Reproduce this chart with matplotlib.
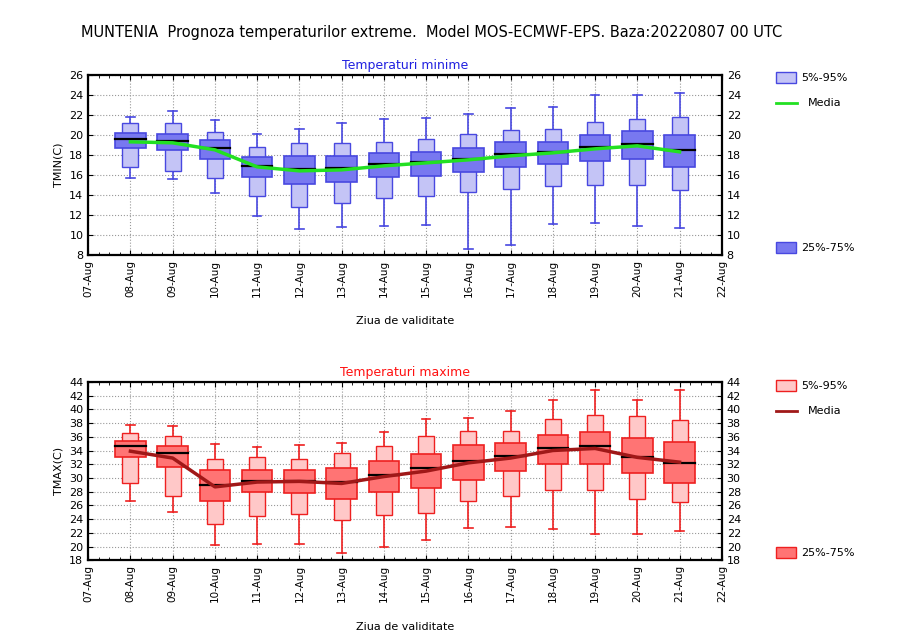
import matplotlib; matplotlib.use("Agg")
import numpy as np, matplotlib.pyplot as plt
import matplotlib.dates as mdates
from matplotlib.patches import Rectangle
from matplotlib.lines import Line2D
import datetime as dt

days = [dt.date(2022, 8, d) for d in range(8, 22)]
# min, p5, p25, median, p75, p95, max, mean
tmin_min = [15.7, 15.6, 14.2, 11.9, 10.6, 10.8, 10.9, 11.0, 8.6, 9.0, 11.1, 11.2, 10.9, 10.7]
tmin_p5 = [16.8, 16.4, 15.7, 13.9, 12.8, 13.2, 13.7, 13.9, 14.3, 14.6, 14.9, 15.0, 15.0, 14.5]
tmin_p25 = [18.7, 18.5, 17.6, 15.8, 15.1, 15.3, 15.8, 15.9, 16.3, 16.8, 17.1, 17.4, 17.6, 16.8]
tmin_med = [19.6, 19.4, 18.7, 16.9, 16.6, 16.7, 17.1, 17.3, 17.6, 18.1, 18.3, 18.8, 19.1, 18.5]
tmin_p75 = [20.2, 20.1, 19.5, 17.8, 17.9, 17.9, 18.2, 18.3, 18.7, 19.3, 19.3, 20.0, 20.4, 20.0]
tmin_p95 = [21.2, 21.2, 20.3, 18.8, 19.2, 19.2, 19.3, 19.6, 20.1, 20.5, 20.6, 21.3, 21.6, 21.8]
tmin_max = [21.8, 22.4, 21.5, 20.1, 20.6, 21.2, 21.6, 21.7, 22.1, 22.7, 22.8, 24.0, 24.0, 24.2]
tmin_mean = [19.3, 19.2, 18.5, 16.8, 16.4, 16.5, 16.9, 17.2, 17.5, 17.9, 18.2, 18.6, 18.9, 18.3]

tmax_min = [26.7, 25.0, 20.2, 20.4, 20.3, 19.1, 20.0, 20.9, 22.7, 22.8, 22.5, 21.8, 21.9, 22.2]
tmax_p5 = [29.2, 27.3, 23.3, 24.4, 24.7, 23.9, 24.6, 24.9, 26.6, 27.4, 28.3, 28.2, 27.0, 26.5]
tmax_p25 = [33.0, 31.6, 26.7, 27.9, 27.8, 27.0, 28.0, 28.5, 29.7, 31.0, 32.0, 32.0, 30.7, 29.3]
tmax_med = [34.6, 33.7, 28.9, 29.6, 29.6, 29.4, 30.4, 31.4, 32.4, 33.2, 34.4, 34.6, 33.0, 32.2]
tmax_p75 = [35.4, 34.7, 31.1, 31.2, 31.1, 31.4, 32.5, 33.5, 34.8, 35.1, 36.3, 36.7, 35.8, 35.2]
tmax_p95 = [36.5, 36.1, 32.8, 33.1, 32.7, 33.7, 34.6, 36.1, 36.9, 36.9, 38.6, 39.2, 39.0, 38.5]
tmax_max = [37.7, 37.5, 34.9, 34.5, 34.8, 35.1, 36.7, 38.6, 38.7, 39.7, 41.4, 42.8, 41.4, 42.8]
tmax_mean = [33.9, 32.9, 28.7, 29.4, 29.5, 29.2, 30.2, 31.0, 32.2, 32.9, 34.0, 34.3, 33.0, 32.3]

fig = plt.figure(figsize=(9, 6.44), dpi=100)
fig.text(0.48, 0.942, "MUNTENIA  Prognoza temperaturilor extreme.  Model MOS-ECMWF-EPS. Baza:20220807 00 UTC",
         ha="center", fontsize=10.5)

def panel(rect, data, ylim, yticks, title, tcol, dark, light, edge, mcol, ylabel):
    ax = fig.add_axes(rect)
    mn, p5, p25, med, p75, p95, mx, mean = data
    x = mdates.date2num(days)
    for i, xi in enumerate(x):
        ax.plot([xi, xi], [mn[i], mx[i]], color=edge, lw=1.2, zorder=2)
        for y in (mn[i], mx[i]):
            ax.plot([xi - 0.1, xi + 0.1], [y, y], color=edge, lw=1.2, zorder=2)
        ax.add_patch(Rectangle((xi - 0.19, p5[i]), 0.38, p95[i] - p5[i], fc=light, ec=edge, lw=1, zorder=3))
        ax.add_patch(Rectangle((xi - 0.36, p25[i]), 0.72, p75[i] - p25[i], fc=dark, ec=edge, lw=1.2, zorder=4))
        ax.plot([xi - 0.36, xi + 0.36], [med[i], med[i]], color="black", lw=1.6, zorder=5)
    ax.plot(x, mean, color=mcol, lw=2.5, zorder=6)
    ax.set_xlim(mdates.date2num(dt.date(2022, 8, 7)), mdates.date2num(dt.date(2022, 8, 22)))
    ax.set_ylim(*ylim)
    ax.set_yticks(yticks)
    ax.xaxis.set_major_locator(mdates.DayLocator())
    ax.xaxis.set_major_formatter(mdates.DateFormatter("%d-%b"))
    ax.xaxis.set_minor_locator(mdates.HourLocator(byhour=[6, 12, 18]))
    ax.tick_params(axis="x", rotation=90, labelsize=7.5)
    ax.tick_params(axis="y", labelsize=8, right=True, labelright=True)
    ax.tick_params(which="both", direction="in", top=True)
    ax.grid(True, ls=":", color="0.6", lw=0.8)
    ax.set_ylabel(ylabel, fontsize=8)
    ax.set_xlabel("Ziua de validitate", fontsize=8, labelpad=14)
    ax.set_title(title, color=tcol, fontsize=9, pad=4)
    for s in ax.spines.values():
        s.set_linewidth(1.6)
    return ax

ax1 = panel([0.098, 0.604, 0.704, 0.28],
            [tmin_min, tmin_p5, tmin_p25, tmin_med, tmin_p75, tmin_p95, tmin_max, tmin_mean],
            (8, 26), range(8, 27, 2), "Temperaturi minime", "#2020e0",
            "#7878f0", "#c4c4f6", "#4848e0", "#22e022", "TMIN(C)")
ax2 = panel([0.098, 0.130, 0.704, 0.277],
            [tmax_min, tmax_p5, tmax_p25, tmax_med, tmax_p75, tmax_p95, tmax_max, tmax_mean],
            (18, 44), range(18, 45, 2), "Temperaturi maxime", "#ff1010",
            "#ff7474", "#ffc8c8", "#ee2020", "#a01818", "TMAX(C)")

def legend(ytop, ybot, dark, light, edge, mcol):
    fig.patches.append(Rectangle((0.862, ytop - 0.017), 0.022, 0.017, fc=light, ec=edge,
                                 transform=fig.transFigure, figure=fig))
    fig.text(0.89, ytop - 0.009, "5%-95%", fontsize=8, va="center")
    fig.lines.append(Line2D([0.862, 0.885], [ytop - 0.048] * 2, color=mcol, lw=2,
                            transform=fig.transFigure, figure=fig))
    fig.text(0.898, ytop - 0.048, "Media", fontsize=8, va="center")
    fig.patches.append(Rectangle((0.862, ybot), 0.022, 0.017, fc=dark, ec=edge,
                                 transform=fig.transFigure, figure=fig))
    fig.text(0.89, ybot + 0.008, "25%-75%", fontsize=8, va="center")

legend(0.888, 0.607, "#7878f0", "#c4c4f6", "#4848e0", "#22e022")
legend(0.410, 0.133, "#ff7474", "#ffc8c8", "#ee2020", "#a01818")

fig.savefig("out.png", dpi=100)
